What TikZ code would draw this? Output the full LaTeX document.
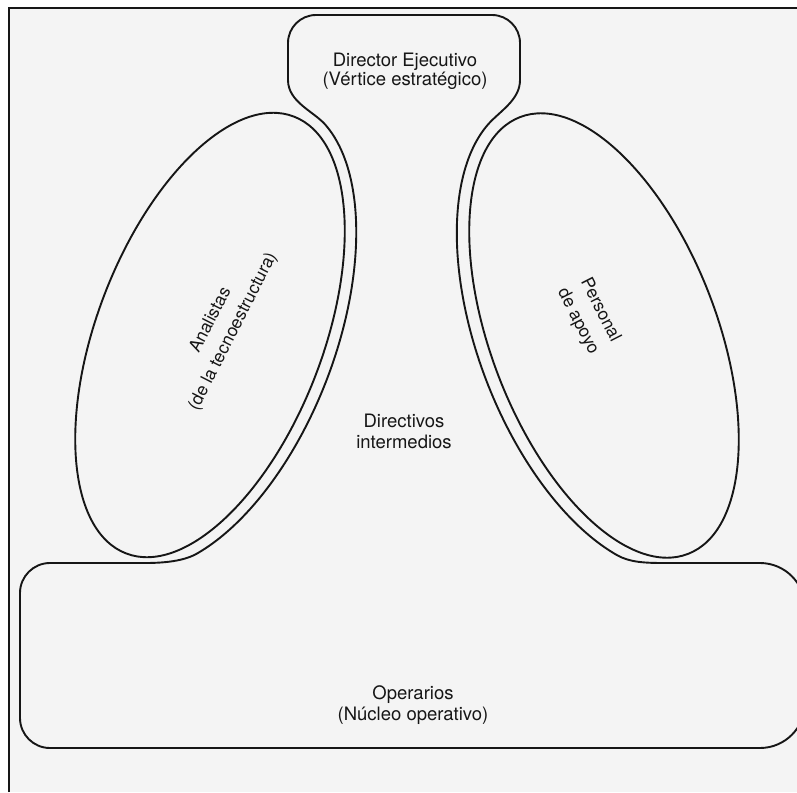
\documentclass[tikz,border=0pt]{standalone}
\usepackage{fontspec}
\setmainfont{TeX Gyre Heros}
\usetikzlibrary{calc}
\definecolor{ink}{RGB}{22,22,22}
\definecolor{paper}{RGB}{244,244,244}
\begin{document}
\begin{tikzpicture}[x=1pt,y=1pt,
  shapeline/.style={draw=ink, line width=1.9pt, line join=round, line cap=round},
  borderline/.style={draw=ink, line width=1.8pt},
  lbl/.style={font=\fontsize{18.5}{21}\selectfont, align=center, text=ink, inner sep=0pt},
  rlbl/.style={font=\fontsize{17.5}{25}\selectfont, align=center, text=ink, inner sep=0pt}]
\useasboundingbox (0,0) rectangle (797,-792);
\clip (0,0) rectangle (797,-792);
\fill[white] (0,0) rectangle (797,-792);
\fill[paper] (9,-8) rectangle (797,-792);
\draw[borderline] (9,-792) -- (9,-8) -- (797,-8);

% junction points on the offset (parallel) ellipse arcs
\coordinate (R1) at ({604-88.52*cos(15)-117.63*sin(15)},{-335.5+230.60*cos(15)-45.16*sin(15)});
\coordinate (R2) at ({604-88.52*cos(148)-117.63*sin(148)},{-335.5+230.60*cos(148)-45.16*sin(148)});
\coordinate (L1) at ({210+88.17*cos(15)+116.70*sin(15)},{-335+229.67*cos(15)-44.80*sin(15)});
\coordinate (L2) at ({210+88.17*cos(148)+116.70*sin(148)},{-335+229.67*cos(148)-44.80*sin(148)});

% outline: strategic apex + middle line + operating core
\draw[shapeline]
  (288,-80) -- (288,-43) arc[start angle=180,end angle=90,radius=28]
  -- (492,-15) arc[start angle=90,end angle=0,radius=28]
  -- (520,-80)
  .. controls (520,-100) and ($(R1)+(0.66*18,0.75*18)$) .. (R1)
  -- plot[domain=15:148,samples=90] ({604-88.52*cos(\x)-117.63*sin(\x)},{-335.5+230.60*cos(\x)-45.16*sin(\x)})
  .. controls ($(R2)+(0.868*15,-0.497*15)$) and (645,-563) .. (665,-563)
  -- (760,-563) arc[start angle=90,end angle=0,radius=45]
  -- (805,-703) arc[start angle=0,end angle=-90,radius=45]
  -- (50,-748) arc[start angle=270,end angle=180,radius=30]
  -- (20,-593) arc[start angle=180,end angle=90,radius=30]
  -- (145,-563)
  .. controls (165,-563) and ($(L2)+(-0.867*15,-0.498*15)$) .. (L2)
  -- plot[domain=15:148,samples=90] ({210+88.17*cos(163-\x)+116.70*sin(163-\x)},{-335+229.67*cos(163-\x)-44.80*sin(163-\x)})
  .. controls ($(L1)+(-0.658*18,0.753*18)$) and (288,-102) .. (288,-80) -- cycle;

% technostructure and support staff
\draw[shapeline, rotate around={69:(210,-335)}] (210,-335) ellipse[x radius=234, y radius=113];
\draw[shapeline, rotate around={-69:(604,-335.5)}] (604,-335.5) ellipse[x radius=234, y radius=113];

\node[lbl, font=\fontsize{18.5}{19}\selectfont] (vertice) at (405,-71) {Director Ejecutivo\\(Vértice estratégico)};
\node[lbl] (linea) at (404,-431) {Directivos\\intermedios};
\node[lbl] (nucleo) at (413,-705) {Operarios\\(Núcleo operativo)};
\node[rlbl, rotate=63] (tecno) at (222,-326) {Analistas\\(de la tecnoestructura)};
\node[rlbl, rotate=-63] (apoyo) at (589,-316) {Personal\\de apoyo};
\end{tikzpicture}
\end{document}
